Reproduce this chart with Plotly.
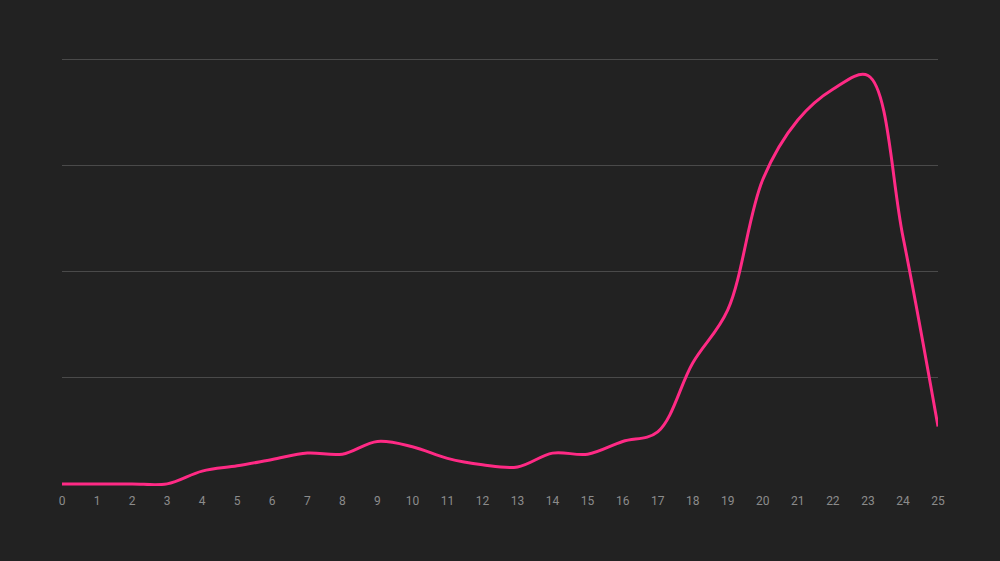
import plotly.graph_objects as go

hours = list(range(26))
values = [0, 0, 0, 0, 12, 17, 23, 29, 28, 40, 35, 24, 18, 16, 29, 28, 40, 49,
          114, 164, 287, 343, 372, 385, 233, 54]
grid_vals = [100, 200, 300, 400]

fig = go.Figure()
fig.add_trace(go.Scatter(
    x=hours, y=values, mode="lines",
    line=dict(color="#ff2a85", width=3, shape="spline", smoothing=1),
    hoverinfo="x+y",
))

fig.update_layout(
    width=1000, height=561,
    paper_bgcolor="#222222", plot_bgcolor="#222222",
    margin=dict(l=62, r=62, t=49, b=75),
    showlegend=False,
    font=dict(family="Roboto", size=12, color="#8c8c8c"),
    xaxis=dict(
        range=[0, 25], tickmode="array", tickvals=hours,
        showgrid=False, zeroline=False, showline=False,
        ticks="", ticklabelstandoff=6, tickfont=dict(color="#8c8c8c", size=12),
    ),
    yaxis=dict(
        range=[-2, 410], tickmode="array", tickvals=grid_vals,
        showticklabels=False, showgrid=True, gridcolor="#4a4a4a", gridwidth=1,
        zeroline=False, showline=False,
    ),
)

# drop the default page margin so the chart sits at the window corner
fig.write_html("out.html", config={"displayModeBar": False},
               post_script="document.body.style.margin='0';")
